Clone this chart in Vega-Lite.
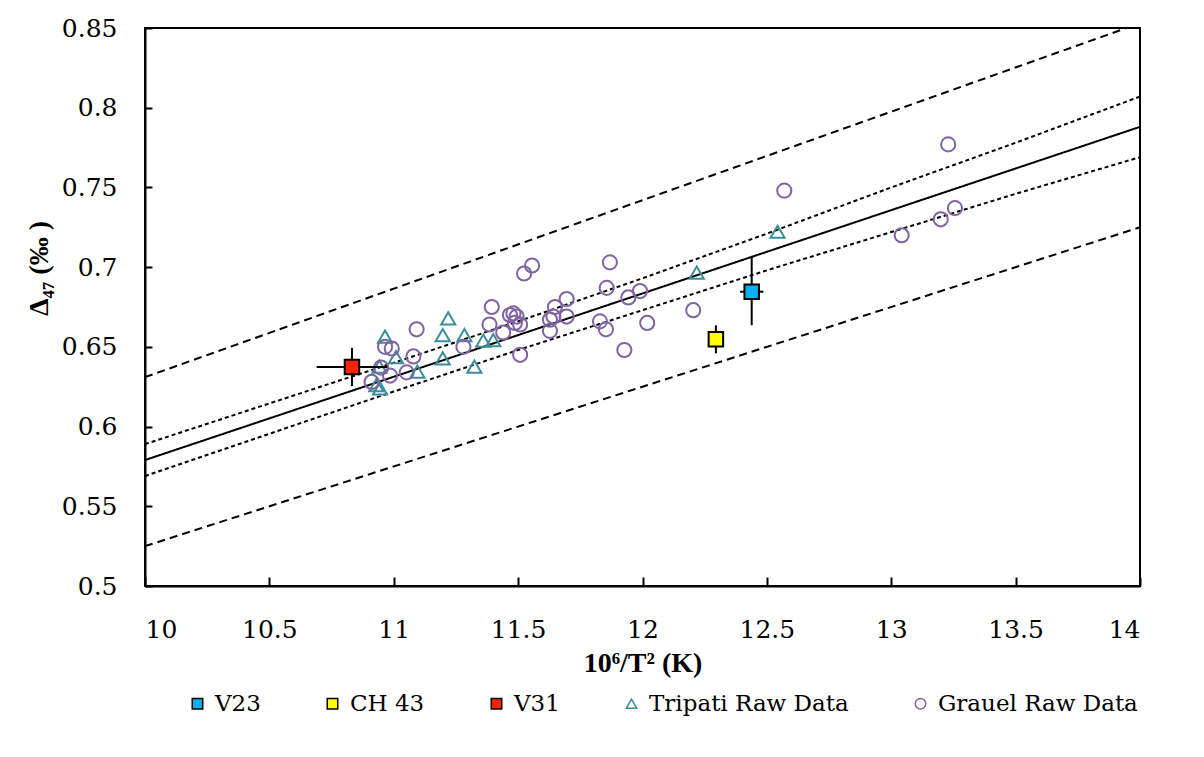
{
  "$schema": "https://vega.github.io/schema/vega-lite/v6.json",
  "width": 995,
  "height": 558,
  "autosize": {"type": "none"},
  "padding": {"left": 145, "top": 28, "right": 64, "bottom": 171},
  "background": "white",
  "config": {
    "view": {"stroke": "black", "strokeWidth": 2},
    "axis": {
      "grid": false,
      "labelColor": "black",
      "domainColor": "black",
      "domainWidth": 2,
      "tickColor": "black",
      "tickWidth": 2,
      "titleColor": "black"
    },
    "legend": {
      "labelFont": "DejaVu Serif",
      "labelFontSize": 23,
      "labelFontWeight": "normal",
      "labelColor": "black",
      "labelLimit": 500,
      "symbolSize": 110,
      "symbolStrokeWidth": 1.5,
      "labelOffset": 6,
      "columnPadding": 60,
      "padding": 0
    }
  },
  "datasets": {
    "lines": [
      {"x": 10, "y": 0.579, "band": "fit", "style": "solid"},
      {"x": 14, "y": 0.788, "band": "fit", "style": "solid"},
      {"x": 10, "y": 0.589, "band": "ciUp", "style": "short"},
      {"x": 10.5, "y": 0.6145, "band": "ciUp", "style": "short"},
      {"x": 11, "y": 0.640, "band": "ciUp", "style": "short"},
      {"x": 11.5, "y": 0.666, "band": "ciUp", "style": "short"},
      {"x": 12, "y": 0.693, "band": "ciUp", "style": "short"},
      {"x": 12.5, "y": 0.721, "band": "ciUp", "style": "short"},
      {"x": 13, "y": 0.750, "band": "ciUp", "style": "short"},
      {"x": 13.5, "y": 0.778, "band": "ciUp", "style": "short"},
      {"x": 14, "y": 0.807, "band": "ciUp", "style": "short"},
      {"x": 10, "y": 0.569, "band": "ciLo", "style": "short"},
      {"x": 10.5, "y": 0.5955, "band": "ciLo", "style": "short"},
      {"x": 11, "y": 0.622, "band": "ciLo", "style": "short"},
      {"x": 11.5, "y": 0.648, "band": "ciLo", "style": "short"},
      {"x": 12, "y": 0.673, "band": "ciLo", "style": "short"},
      {"x": 12.5, "y": 0.698, "band": "ciLo", "style": "short"},
      {"x": 13, "y": 0.722, "band": "ciLo", "style": "short"},
      {"x": 13.5, "y": 0.746, "band": "ciLo", "style": "short"},
      {"x": 14, "y": 0.769, "band": "ciLo", "style": "short"},
      {"x": 10, "y": 0.631, "band": "piUp", "style": "long"},
      {"x": 14, "y": 0.853, "band": "piUp", "style": "long"},
      {"x": 10, "y": 0.525, "band": "piLo", "style": "long"},
      {"x": 14, "y": 0.725, "band": "piLo", "style": "long"}
    ],
    "raw": [
      {"series": "Tripati Raw Data", "x": 10.965, "y": 0.6564},
      {"series": "Tripati Raw Data", "x": 11.009, "y": 0.6435},
      {"series": "Tripati Raw Data", "x": 10.942, "y": 0.6376},
      {"series": "Tripati Raw Data", "x": 10.93, "y": 0.626},
      {"series": "Tripati Raw Data", "x": 10.945, "y": 0.624},
      {"series": "Tripati Raw Data", "x": 11.095, "y": 0.6344},
      {"series": "Tripati Raw Data", "x": 11.219, "y": 0.6679},
      {"series": "Tripati Raw Data", "x": 11.197, "y": 0.6574},
      {"series": "Tripati Raw Data", "x": 11.197, "y": 0.6428},
      {"series": "Tripati Raw Data", "x": 11.284, "y": 0.6574},
      {"series": "Tripati Raw Data", "x": 11.324, "y": 0.6376},
      {"series": "Tripati Raw Data", "x": 11.36, "y": 0.6539},
      {"series": "Tripati Raw Data", "x": 11.40, "y": 0.6543},
      {"series": "Tripati Raw Data", "x": 12.218, "y": 0.6965},
      {"series": "Tripati Raw Data", "x": 12.543, "y": 0.7222},
      {"series": "Grauel Raw Data", "x": 11.524, "y": 0.696},
      {"series": "Grauel Raw Data", "x": 11.556, "y": 0.701},
      {"series": "Grauel Raw Data", "x": 11.092, "y": 0.661},
      {"series": "Grauel Raw Data", "x": 10.965, "y": 0.650},
      {"series": "Grauel Raw Data", "x": 10.992, "y": 0.649},
      {"series": "Grauel Raw Data", "x": 11.079, "y": 0.644},
      {"series": "Grauel Raw Data", "x": 11.052, "y": 0.634},
      {"series": "Grauel Raw Data", "x": 10.985, "y": 0.632},
      {"series": "Grauel Raw Data", "x": 10.949, "y": 0.637},
      {"series": "Grauel Raw Data", "x": 10.911, "y": 0.628},
      {"series": "Grauel Raw Data", "x": 11.394, "y": 0.675},
      {"series": "Grauel Raw Data", "x": 11.385, "y": 0.664},
      {"series": "Grauel Raw Data", "x": 11.280, "y": 0.650},
      {"series": "Grauel Raw Data", "x": 11.440, "y": 0.659},
      {"series": "Grauel Raw Data", "x": 11.467, "y": 0.670},
      {"series": "Grauel Raw Data", "x": 11.481, "y": 0.671},
      {"series": "Grauel Raw Data", "x": 11.494, "y": 0.669},
      {"series": "Grauel Raw Data", "x": 11.508, "y": 0.664},
      {"series": "Grauel Raw Data", "x": 11.487, "y": 0.665},
      {"series": "Grauel Raw Data", "x": 11.508, "y": 0.645},
      {"series": "Grauel Raw Data", "x": 11.648, "y": 0.675},
      {"series": "Grauel Raw Data", "x": 11.695, "y": 0.680},
      {"series": "Grauel Raw Data", "x": 11.628, "y": 0.667},
      {"series": "Grauel Raw Data", "x": 11.695, "y": 0.669},
      {"series": "Grauel Raw Data", "x": 11.628, "y": 0.660},
      {"series": "Grauel Raw Data", "x": 11.642, "y": 0.669},
      {"series": "Grauel Raw Data", "x": 11.869, "y": 0.703},
      {"series": "Grauel Raw Data", "x": 11.856, "y": 0.687},
      {"series": "Grauel Raw Data", "x": 11.943, "y": 0.681},
      {"series": "Grauel Raw Data", "x": 11.990, "y": 0.685},
      {"series": "Grauel Raw Data", "x": 11.829, "y": 0.666},
      {"series": "Grauel Raw Data", "x": 11.853, "y": 0.661},
      {"series": "Grauel Raw Data", "x": 12.019, "y": 0.665},
      {"series": "Grauel Raw Data", "x": 11.927, "y": 0.648},
      {"series": "Grauel Raw Data", "x": 12.204, "y": 0.673},
      {"series": "Grauel Raw Data", "x": 12.570, "y": 0.748},
      {"series": "Grauel Raw Data", "x": 13.229, "y": 0.777},
      {"series": "Grauel Raw Data", "x": 13.042, "y": 0.720},
      {"series": "Grauel Raw Data", "x": 13.199, "y": 0.730},
      {"series": "Grauel Raw Data", "x": 13.256, "y": 0.737}
    ],
    "samples": [
      {"series": "V23", "x": 12.439, "y": 0.6846, "xlo": 12.392, "xhi": 12.486, "ylo": 0.6636, "yhi": 0.7066},
      {"series": "CH 43", "x": 12.295, "y": 0.6547, "xlo": 12.275, "xhi": 12.315, "ylo": 0.6459, "yhi": 0.6635},
      {"series": "V31", "x": 10.832, "y": 0.6374, "xlo": 10.69, "xhi": 10.974, "ylo": 0.6254, "yhi": 0.6494}
    ]
  },
  "encoding": {
    "x": {
      "field": "x", "type": "quantitative",
      "scale": {"domain": [10, 14], "nice": false, "zero": false},
      "axis": {
        "title": "10⁶/T² (K)",
        "values": [10, 10.5, 11, 11.5, 12, 12.5, 13, 13.5, 14],
        "format": "~g",
        "labelFont": "DejaVu Serif",
        "labelFontWeight": "normal",
        "labelFontSize": 25,
        "titleFont": "Liberation Serif",
        "titleFontSize": 28,
        "titleFontWeight": "bold",
        "tickSize": -9,
        "labelPadding": 40,
        "titlePadding": 7
      }
    },
    "y": {
      "field": "y", "type": "quantitative",
      "scale": {"domain": [0.5, 0.85], "nice": false, "zero": false},
      "axis": {
        "title": "Δ₄₇ (‰ )",
        "values": [0.5, 0.55, 0.6, 0.65, 0.7, 0.75, 0.8, 0.85],
        "format": "~g",
        "labelFont": "DejaVu Serif",
        "labelFontWeight": "normal",
        "labelFontSize": 25,
        "titleFont": "Liberation Serif",
        "titleFontSize": 28,
        "titleFontWeight": "bold",
        "tickSize": -7,
        "labelPadding": 35,
        "titlePadding": 8,
        "titleY": 240
      }
    }
  },
  "layer": [
    {
      "data": {"name": "lines"},
      "mark": {"type": "line", "color": "black", "strokeWidth": 2, "clip": true},
      "encoding": {
        "detail": {"field": "band"},
        "strokeDash": {
          "field": "style", "type": "nominal",
          "scale": {"domain": ["solid", "short", "long"], "range": [[1, 0], [4, 3], [8, 5]]},
          "legend": null
        }
      }
    },
    {
      "data": {"name": "raw"},
      "mark": {"type": "point", "size": 200, "strokeWidth": 2, "opacity": 1},
      "encoding": {
        "shape": {"field": "series", "type": "nominal", "title": null, "legend": {"orient": "none", "direction": "horizontal", "legendX": 41, "legendY": 664}},
        "fill": {"field": "series", "type": "nominal", "title": null, "legend": {"orient": "none", "direction": "horizontal", "legendX": 41, "legendY": 664}},
        "stroke": {"field": "series", "type": "nominal", "title": null, "legend": {"orient": "none", "direction": "horizontal", "legendX": 41, "legendY": 664}}
      }
    },
    {
      "data": {"name": "samples"},
      "mark": {"type": "rule", "color": "black", "strokeWidth": 2},
      "encoding": {"x": {"field": "xlo", "type": "quantitative"}, "x2": {"field": "xhi"}}
    },
    {
      "data": {"name": "samples"},
      "mark": {"type": "rule", "color": "black", "strokeWidth": 2},
      "encoding": {"y": {"field": "ylo", "type": "quantitative"}, "y2": {"field": "yhi"}}
    },
    {
      "data": {"name": "samples"},
      "mark": {"type": "point", "size": 210, "strokeWidth": 2, "opacity": 1},
      "encoding": {
        "shape": {
          "field": "series", "type": "nominal", "title": null,
          "scale": {"domain": ["V23", "CH 43", "V31", "Tripati Raw Data", "Grauel Raw Data"], "range": ["square", "square", "square", "triangle-up", "circle"]},
          "legend": {"orient": "none", "direction": "horizontal", "legendX": 41, "legendY": 664}
        },
        "fill": {
          "field": "series", "type": "nominal", "title": null,
          "scale": {"domain": ["V23", "CH 43", "V31", "Tripati Raw Data", "Grauel Raw Data"], "range": ["#00B0F0", "#FFFF00", "#FF2200", "transparent", "transparent"]},
          "legend": {"orient": "none", "direction": "horizontal", "legendX": 41, "legendY": 664}
        },
        "stroke": {
          "field": "series", "type": "nominal", "title": null,
          "scale": {"domain": ["V23", "CH 43", "V31", "Tripati Raw Data", "Grauel Raw Data"], "range": ["black", "black", "black", "#3A8E9A", "#8064A2"]},
          "legend": {"orient": "none", "direction": "horizontal", "legendX": 41, "legendY": 664}
        }
      }
    }
  ]
}
